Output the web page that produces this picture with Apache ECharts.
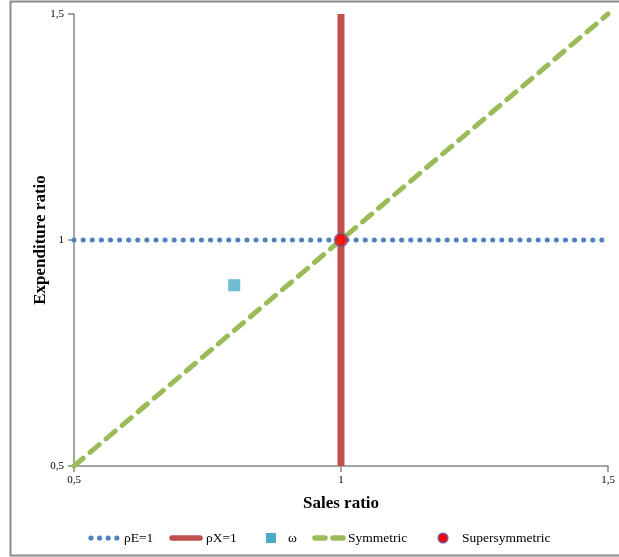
<!DOCTYPE html>
<html>
<head>
<meta charset="utf-8">
<script src="https://cdn.jsdelivr.net/npm/echarts@6/dist/echarts.min.js"></script>
<style>
  html, body { margin: 0; padding: 0; background: #fff; }
  #chart { width: 619px; height: 557px; }
</style>
</head>
<body>
<div id="chart"></div>
<script>
// Axis ticks (both axes share the same range)
const axisTicks = [0.5, 1, 1.5];

// Reference lines, each given by its two end points [sales, expenditure]
const rhoE = [[0.5, 1], [1.5, 1]];
const rhoX = [[1, 0.5], [1, 1.5]];
const symmetric = [[0.5, 0.5], [1.5, 1.5]];

// Single points
const omega = [[0.8, 0.9]];
const supersymmetric = [[1, 1]];

const seriesNames = ['ρE=1', 'ρX=1', 'ω', 'Symmetric', 'Supersymmetric'];

const serif = '"Liberation Serif", "DejaVu Serif", serif';
const fmt = v => String(v).replace('.', ',');

const BLUE = '#4F81BD', RED = '#C0504D', CYAN = '#4BACC6', GREEN = '#9BBB59';

const chart = echarts.init(document.getElementById('chart'), null, { renderer: 'canvas' });

const axisCommon = {
  type: 'value',
  min: axisTicks[0],
  max: axisTicks[axisTicks.length - 1],
  interval: 0.5,
  axisLine: { show: true, lineStyle: { color: '#868686', width: 1.5 } },
  axisTick: { show: true, inside: false, length: 6, lineStyle: { color: '#868686', width: 1.5 } },
  splitLine: { show: false },
  axisLabel: { color: '#000', fontFamily: serif, fontSize: 11, formatter: fmt },
  nameLocation: 'middle',
  nameMoveOverlap: false,
  nameTextStyle: { color: '#000', fontFamily: serif, fontSize: 17, fontWeight: 'bold' }
};

// Legend key drawn as graphic elements (dotted / solid / square / dashed / circle)
const LY = 538;
const legendText = (x, text) => ({
  type: 'text', x: x, y: LY,
  style: { text: text, fill: '#000', font: '13.5px ' + serif, verticalAlign: 'middle', align: 'left' },
  silent: true
});
const legendGraphics = [];
[91, 99.6, 108.2, 116.8].forEach(cx => legendGraphics.push({
  type: 'circle', shape: { cx: cx, cy: LY, r: 2.6 }, style: { fill: BLUE }, silent: true
}));
legendGraphics.push(legendText(124, seriesNames[0]));
legendGraphics.push({
  type: 'line', shape: { x1: 172, y1: LY, x2: 200, y2: LY },
  style: { stroke: RED, lineWidth: 5.5, lineCap: 'round' }, silent: true
});
legendGraphics.push(legendText(206, seriesNames[1]));
legendGraphics.push({
  type: 'rect', shape: { x: 266, y: LY - 5, width: 10, height: 10 }, style: { fill: CYAN }, silent: true
});
legendGraphics.push(legendText(288, seriesNames[2]));
legendGraphics.push({
  type: 'line', shape: { x1: 315, y1: LY, x2: 325, y2: LY },
  style: { stroke: GREEN, lineWidth: 5.5, lineCap: 'round' }, silent: true
});
legendGraphics.push({
  type: 'line', shape: { x1: 333, y1: LY, x2: 343, y2: LY },
  style: { stroke: GREEN, lineWidth: 5.5, lineCap: 'round' }, silent: true
});
legendGraphics.push(legendText(348, seriesNames[3]));
legendGraphics.push({
  type: 'circle', shape: { cx: 443, cy: LY, r: 4.8 },
  style: { fill: '#FF0000', stroke: '#7360A8', lineWidth: 1.5 }, silent: true
});
legendGraphics.push(legendText(462, seriesNames[4]));

chart.setOption({
  animation: false,
  backgroundColor: '#fff',
  grid: { left: 74, top: 14, right: 11, bottom: 91, containLabel: false },
  xAxis: Object.assign({}, axisCommon, {
    name: 'Sales ratio',
    nameGap: 29,
    axisLabel: Object.assign({}, axisCommon.axisLabel, { margin: 9 })
  }),
  yAxis: Object.assign({}, axisCommon, {
    name: 'Expenditure ratio',
    nameGap: 25,
    axisLabel: Object.assign({}, axisCommon.axisLabel, { margin: 10 })
  }),
  legend: { show: false, data: seriesNames },
  graphic: [{
    type: 'rect',
    shape: { x: 10.5, y: 1.5, width: 640, height: 554 },
    style: { fill: 'none', stroke: '#8c8c8c', lineWidth: 2 },
    silent: true, z: -10
  }].concat(legendGraphics),
  series: [
    {
      name: seriesNames[0], type: 'line', data: rhoE, symbol: 'none', clip: false,
      lineStyle: { color: BLUE, width: 5, type: [0.1, 9], cap: 'round' },
      itemStyle: { color: BLUE }, z: 2
    },
    {
      name: seriesNames[1], type: 'line', data: rhoX, symbol: 'none', clip: false,
      lineStyle: { color: RED, width: 7 },
      itemStyle: { color: RED }, z: 3
    },
    {
      name: seriesNames[2], type: 'scatter', data: omega, symbol: 'rect', symbolSize: 12,
      itemStyle: { color: CYAN }, z: 4
    },
    {
      name: seriesNames[3], type: 'line', data: symmetric, symbol: 'none', clip: false,
      lineStyle: { color: GREEN, width: 5, type: [12, 9], cap: 'round' },
      itemStyle: { color: GREEN }, z: 5
    },
    {
      name: seriesNames[4], type: 'scatter', data: supersymmetric, symbol: 'circle', symbolSize: 13,
      itemStyle: { color: '#FF0000', borderColor: '#7360A8', borderWidth: 1.5 }, z: 6
    }
  ]
});
</script>
</body>
</html>
